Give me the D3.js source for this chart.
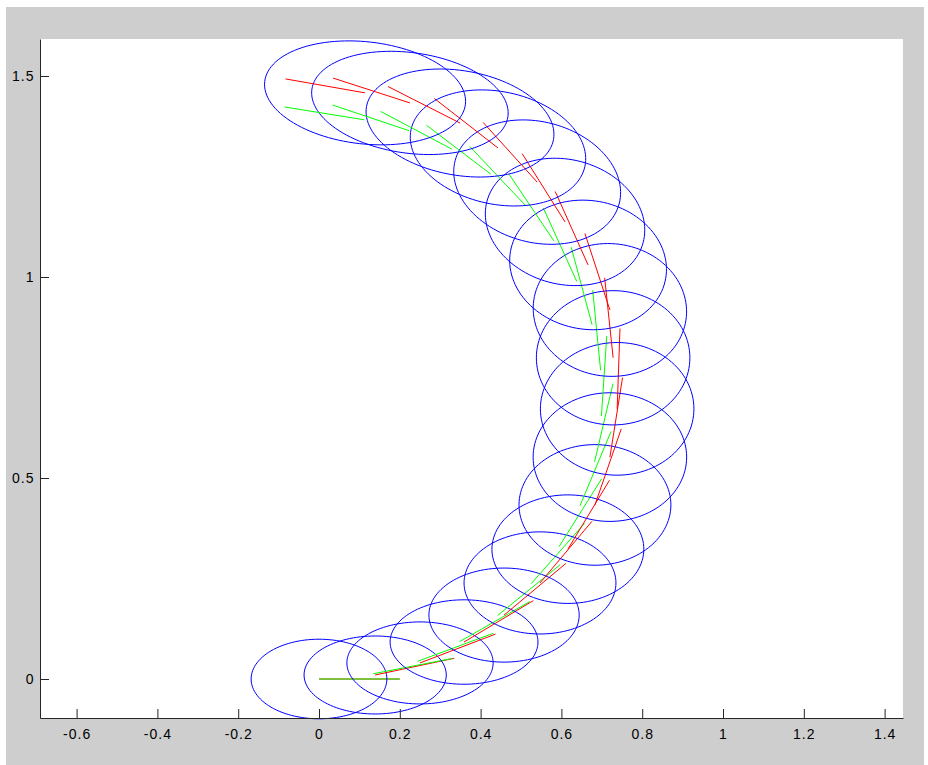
<!DOCTYPE html>
<meta charset="utf-8">
<style>
body { margin: 0; background: #fff; }
.axis path, .axis line { stroke: #262626; }
.axis text { font-family: "Liberation Sans", Arial, sans-serif; font-size: 14px; letter-spacing: 1px; fill: #000; }
.est { stroke: #ff0000; fill: none; }
.truth { stroke: #00ff00; fill: none; }
.cov { stroke: #0000ff; fill: none; }
</style>
<svg width="928" height="765"></svg>
<script src="https://d3js.org/d3.v7.min.js"></script>
<script>

// estimated poses (red heading lines, ellipse centres)
var estX  = [0, 0.139, 0.250, 0.359, 0.458, 0.547, 0.616, 0.683, 0.720, 0.738, 0.728, 0.720, 0.666, 0.609, 0.540, 0.443, 0.349, 0.225, 0.114];
var estY  = [0, 0.010, 0.040, 0.092, 0.159, 0.239, 0.323, 0.433, 0.552, 0.672, 0.799, 0.918, 1.030, 1.137, 1.236, 1.321, 1.383, 1.433, 1.458];
var estTh = [0, 12, 21, 31, 40, 50, 59, 71, 81, 88, 96, 108, 114, 122, 132, 142, 153, 162, 170];

// true poses (green heading lines)
var trueX  = [0, 0.134, 0.244, 0.348, 0.442, 0.525, 0.594, 0.646, 0.682, 0.699, 0.697, 0.676, 0.638, 0.582, 0.510, 0.425, 0.329, 0.223, 0.112];
var trueY  = [0, 0.013, 0.044, 0.093, 0.158, 0.237, 0.329, 0.431, 0.540, 0.654, 0.768, 0.881, 0.989, 1.089, 1.179, 1.256, 1.318, 1.364, 1.391];
var trueTh = [0, 11.0, 20.4, 29.8, 39.2, 48.6, 58.0, 67.4, 76.8, 86.2, 95.6, 105.0, 114.4, 123.8, 133.2, 142.6, 152.0, 161.4, 170.8];

// covariance ellipses: semi axes and tilt (degrees)
var ellRx  = [0.168, 0.176, 0.181, 0.183, 0.186, 0.188, 0.188, 0.188, 0.190, 0.190, 0.190, 0.190, 0.195, 0.200, 0.210, 0.220, 0.235, 0.245, 0.250];
var ellRy  = [0.099, 0.097, 0.102, 0.105, 0.117, 0.127, 0.135, 0.150, 0.160, 0.165, 0.167, 0.165, 0.160, 0.155, 0.150, 0.140, 0.130, 0.125, 0.127];
var ellAng = [0, 0, 0, 0, 0, 0, 0, 0, 0, 0, 0, -5, -10, -15, -15, -12, -10, -8, -6.5];

var xTicks = [-0.6, -0.4, -0.2, 0, 0.2, 0.4, 0.6, 0.8, 1, 1.2, 1.4];
var xTickLabels = ["-0.6", "-0.4", "-0.2", "0", "0.2", "0.4", "0.6", "0.8", "1", "1.2", "1.4"];
var yTicks = [0, 0.5, 1, 1.5];
var yTickLabels = ["0", "0.5", "1", "1.5"];

var headLen = 0.2;

var svg = d3.select("svg");

// figure background
svg.append("rect")
    .attr("x", 6).attr("y", 7)
    .attr("width", 918).attr("height", 758)
    .attr("fill", "#cecece");

var axLeft = 40, axRight = 903, axTop = 39, axBottom = 718;

svg.append("rect")
    .attr("x", axLeft).attr("y", axTop)
    .attr("width", axRight - axLeft).attr("height", axBottom - axTop)
    .attr("fill", "#fff");

var x = d3.scaleLinear().domain([-0.6906, 1.4455]).range([axLeft, axRight]);
var y = d3.scaleLinear().domain([-0.097, 1.592]).range([axBottom, axTop]);

var plot = svg.append("g");

var line = d3.line()
    .x(function(d) { return x(d[0]); })
    .y(function(d) { return y(d[1]); });

var rad = Math.PI / 180;

function ellipsePts(i) {
  var pts = [], a = ellAng[i] * rad;
  for (var k = 0; k <= 120; k++) {
    var t = 2 * Math.PI * k / 120;
    var ex = ellRx[i] * Math.cos(t), ey = ellRy[i] * Math.sin(t);
    pts.push([estX[i] + ex * Math.cos(a) - ey * Math.sin(a),
              estY[i] + ex * Math.sin(a) + ey * Math.cos(a)]);
  }
  return pts;
}

estX.forEach(function(d, i) {
  var g = plot.append("g");
  g.append("path").attr("class", "est")
    .attr("d", line([[estX[i], estY[i]],
      [estX[i] + headLen * Math.cos(estTh[i] * rad), estY[i] + headLen * Math.sin(estTh[i] * rad)]]));
  g.append("path").attr("class", "truth")
    .attr("d", line([[trueX[i], trueY[i]],
      [trueX[i] + headLen * Math.cos(trueTh[i] * rad), trueY[i] + headLen * Math.sin(trueTh[i] * rad)]]));
  g.append("path").attr("class", "cov")
    .attr("d", line(ellipsePts(i)));
});

// axes, ticks point inward like the original
svg.append("g")
    .attr("class", "axis")
    .attr("transform", "translate(0," + axBottom + ")")
    .call(d3.axisBottom(x).tickValues(xTicks)
      .tickFormat(function(d, i) { return xTickLabels[i]; })
      .tickSizeInner(-9).tickSizeOuter(0).tickPadding(11));

svg.append("g")
    .attr("class", "axis")
    .attr("transform", "translate(" + axLeft + ",0)")
    .call(d3.axisLeft(y).tickValues(yTicks)
      .tickFormat(function(d, i) { return yTickLabels[i]; })
      .tickSizeInner(-9).tickSizeOuter(0).tickPadding(5.5));

svg.selectAll(".axis text").attr("font-family", null).attr("font-size", null);

</script>
